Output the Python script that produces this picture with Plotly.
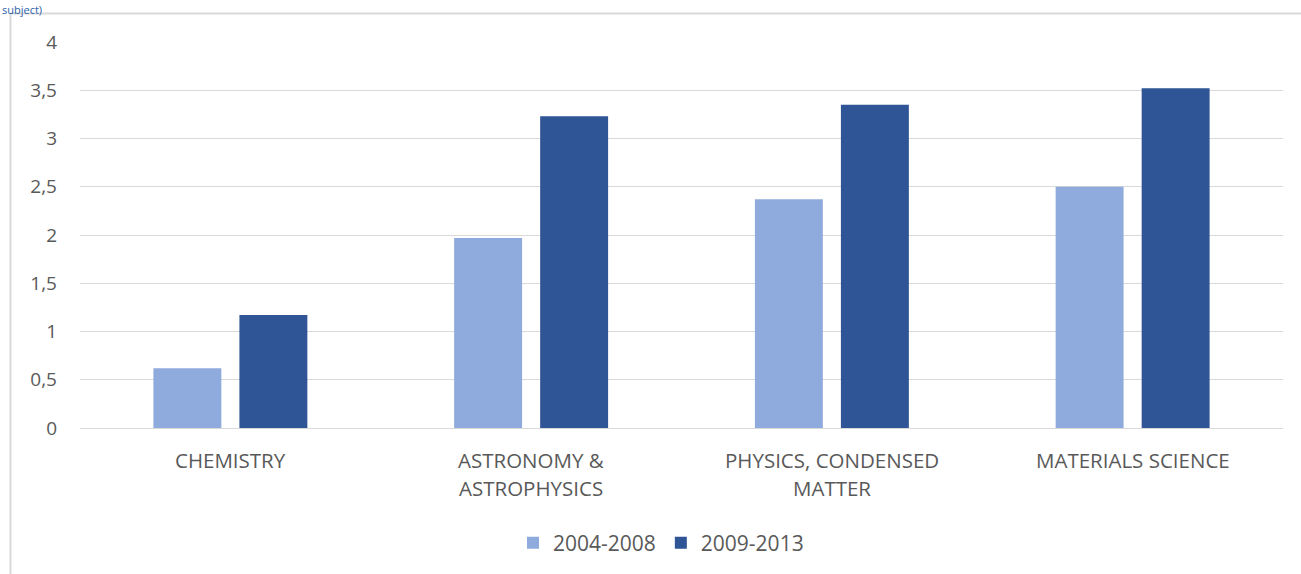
import plotly.graph_objects as go

# Categories (line breaks within a label are kept as "\n")
categories = ["CHEMISTRY", "ASTRONOMY &\nASTROPHYSICS", "PHYSICS, CONDENSED\nMATTER", "MATERIALS SCIENCE"]
period_names = ["2004-2008", "2009-2013"]
values_2004_2008 = [0.62, 1.97, 2.37, 2.50]
values_2009_2013 = [1.17, 3.23, 3.35, 3.52]
y_ticks = [0, 0.5, 1, 1.5, 2, 2.5, 3, 3.5, 4]

colors = ["#8FAADC", "#2F5597"]
text_color = "#595959"
grid_color = "#D9D9D9"
font_family = "Open Sans, Noto Sans, sans-serif"

fig = go.Figure()
for name, vals, col in zip(period_names, [values_2004_2008, values_2009_2013], colors):
    fig.add_trace(go.Bar(
        x=categories, y=vals, name=name,
        marker=dict(color=col, line=dict(width=0)),
    ))

# Category labels drawn as annotations so each line can be placed separately
annotations = []
line_gap = 28
for cat in categories:
    for i, line in enumerate(cat.split("\n")):
        annotations.append(dict(
            x=cat, xref="x", y=0, yref="y",
            text=line, showarrow=False,
            yanchor="middle", xanchor="center",
            yshift=-32 - i * line_gap,
            font=dict(family=font_family, size=20.5, color=text_color),
        ))

# Heading text at the top-left corner, above the frame
annotations.append(dict(
    x=(0 - 80) / 1203, xref="paper", y=(429 - 0) / 387, yref="paper",
    text="subject)", showarrow=False, xanchor="left", yanchor="top",
    font=dict(family=font_family, size=11, color="#2E62A8"),
))

# Chart frame (left and top edges)
shapes = [
    dict(type="line", xref="paper", yref="paper",
         x0=(10.5 - 80) / 1203, x1=(10.5 - 80) / 1203,
         y0=(429 - 13.5) / 387, y1=(429 - 600) / 387,
         line=dict(color=grid_color, width=2)),
    dict(type="line", xref="paper", yref="paper",
         x0=(10 - 80) / 1203, x1=(1310 - 80) / 1203,
         y0=(429 - 13.5) / 387, y1=(429 - 13.5) / 387,
         line=dict(color=grid_color, width=2)),
]

fig.update_layout(
    width=1301, height=574,
    margin=dict(l=80, r=18, t=42, b=145, pad=0),
    paper_bgcolor="white", plot_bgcolor="white",
    separators=", ",
    barmode="group", bargap=0.428, bargroupgap=0.21,
    font=dict(family=font_family, color=text_color),
    showlegend=True,
    legend=dict(
        orientation="h", x=(661 - 80) / 1203, xanchor="center",
        y=(429 - 543) / 387, yanchor="middle",
        font=dict(family=font_family, size=21, color=text_color),
        itemwidth=30, tracegroupgap=0,
    ),
    annotations=annotations,
    shapes=shapes,
)
fig.update_xaxes(showticklabels=False, showgrid=False, ticks="",
                 showline=False, zeroline=False)
fig.update_yaxes(range=[0, 4], tickvals=y_ticks, showgrid=True, gridcolor=grid_color,
                 gridwidth=1, zeroline=True, zerolinecolor=grid_color, zerolinewidth=1,
                 showline=False, ticks="", ticklabelstandoff=22,
                 tickfont=dict(family=font_family, size=19, color=text_color))

fig.write_html("out.html")
